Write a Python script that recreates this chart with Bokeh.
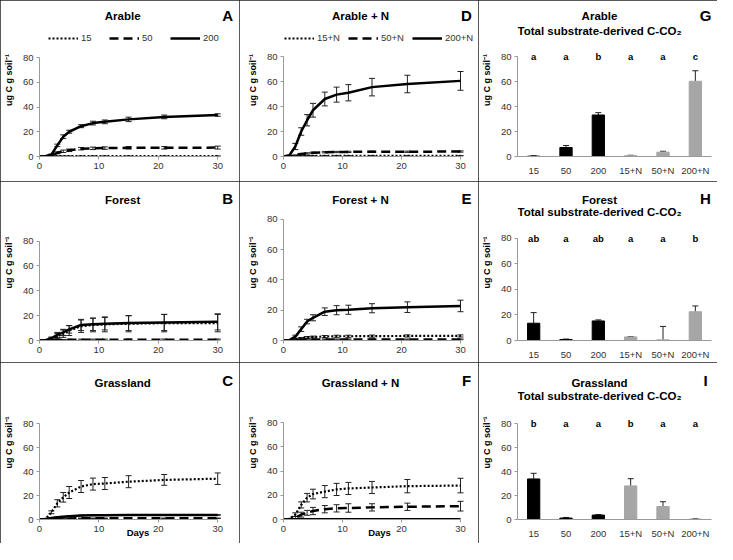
from bokeh.plotting import figure
from bokeh.layouts import gridplot
from bokeh.models import (Range1d, ColumnDataSource, Whisker, TeeHead, Label, LabelSet,
                          Legend, LegendItem, FixedTicker)
from bokeh.core.properties import value
from bokeh.embed import file_html
from bokeh.resources import INLINE

# ---------------- data ----------------
days = [0, 1, 2, 3, 4, 5, 7, 9, 11, 15, 21, 30]

arable_15 = [0, 0.1, 0.2, 0.3, 0.3, 0.3, 0.3, 0.3, 0.3, 0.3, 0.3, 0.3]
arable_15_err = [0, 0, 0, 0.1, 0.1, 0.1, 0.1, 0.1, 0.1, 0.1, 0.1, 0.1]
arable_50 = [0, 0.2, 1.0, 3.0, 4.2, 5.0, 6.3, 6.6, 6.8, 7.0, 7.0, 7.2]
arable_50_err = [0, 0, 0.3, 0.8, 1.0, 1.0, 1.0, 1.0, 1.0, 1.0, 1.0, 1.2]
arable_200 = [0, 0.3, 1.5, 9, 16, 20, 24.5, 27, 28, 30, 32, 33.5]
arable_200_err = [0, 0, 0.5, 1.0, 1.5, 1.2, 1.2, 1.5, 1.5, 1.8, 1.5, 1.0]

arable_n_15 = [0, 0.1, 0.3, 0.4, 0.5, 0.5, 0.5, 0.5, 0.5, 0.5, 0.5, 0.5]
arable_n_15_err = [0, 0, 0.1, 0.2, 0.2, 0.2, 0.2, 0.2, 0.2, 0.2, 0.2, 0.2]
arable_n_50 = [0, 0.3, 1.0, 2.0, 2.5, 3.0, 3.4, 3.6, 3.7, 3.8, 3.8, 4.0]
arable_n_50_err = [0, 0, 0.3, 0.5, 0.5, 0.5, 0.5, 0.5, 0.5, 0.5, 0.5, 0.5]
arable_n_200 = [0, 1.0, 8, 20, 29, 37, 46, 49.5, 51, 55.5, 58, 60.5]
arable_n_200_err = [0, 0, 2.5, 3, 4.5, 5.5, 5.5, 6, 6.5, 7, 7, 7.5]

forest_15 = [0, 0.2, 1.2, 3.5, 5.5, 8, 11.5, 12.5, 13, 13.5, 14, 14]
forest_15_err = [0, 0, 1, 2, 3, 4, 5, 5.5, 6, 6.5, 7, 7]
forest_50 = [0, 0.1, 0.3, 0.5, 0.5, 0.6, 0.6, 0.6, 0.6, 0.7, 0.7, 0.7]
forest_50_err = [0, 0, 0.2, 0.3, 0.3, 0.4, 0.5, 0.5, 0.5, 0.5, 0.5, 0.5]
forest_200 = [0, 0.3, 1.8, 4.5, 6.5, 9, 12.5, 13, 13.5, 14, 14.5, 15]
forest_200_err = [0, 0, 1, 2, 2.5, 3, 4.5, 5, 5, 6, 6.5, 6.5]

forest_n_15 = [0, 0.2, 0.8, 1.5, 2.0, 2.3, 2.6, 2.8, 2.8, 2.9, 3.0, 3.0]
forest_n_15_err = [0, 0, 0.3, 0.5, 0.6, 0.6, 0.7, 0.7, 0.7, 0.7, 0.7, 0.7]
forest_n_50 = [0, 0.1, 0.3, 0.5, 0.6, 0.6, 0.7, 0.7, 0.7, 0.7, 0.7, 0.7]
forest_n_50_err = [0, 0, 0.2, 0.3, 0.3, 0.3, 0.3, 0.3, 0.3, 0.3, 0.3, 0.3]
forest_n_200 = [0, 0.3, 2.5, 7.5, 12.5, 15, 19, 20, 20.3, 21.3, 22, 22.8]
forest_n_200_err = [0, 0, 1, 1.5, 1.5, 2, 2.5, 3, 3, 3, 3.5, 3.8]

grass_15 = [0, 0.5, 6, 13.5, 18.5, 22.5, 27.5, 29.5, 30, 31.5, 33, 34]
grass_15_err = [0, 0, 1.2, 3, 4, 5, 5, 5, 5, 5, 4.5, 4.8]
grass_50 = [0, 0.1, 0.3, 0.6, 0.8, 0.9, 1, 1, 1, 1, 1, 1]
grass_50_err = [0, 0, 0.1, 0.2, 0.2, 0.2, 0.2, 0.2, 0.2, 0.2, 0.2, 0.2]
grass_200 = [0, 0.5, 1.2, 1.8, 2.3, 2.7, 3.3, 3.5, 3.6, 3.7, 3.8, 3.8]
grass_200_err = [0, 0, 0.2, 0.3, 0.3, 0.3, 0.3, 0.3, 0.3, 0.3, 0.3, 0.3]

grass_n_15 = [0, 0.5, 4, 12, 18, 21, 23, 24.8, 25.6, 26.4, 27.5, 28]
grass_n_15_err = [0, 0, 1.5, 2.5, 3.5, 4, 5, 5, 5, 5, 5.5, 6]
grass_n_50 = [0, 0.2, 1.5, 4, 5.5, 7, 8.5, 9.2, 9.5, 10, 10.5, 11]
grass_n_50_err = [0, 0, 1, 2, 2, 3, 3, 3, 3.5, 3, 3, 4]
grass_n_200 = [0, 0.1, 0.2, 0.3, 0.3, 0.3, 0.3, 0.3, 0.3, 0.3, 0.3, 0.3]
grass_n_200_err = [0, 0, 0, 0, 0, 0, 0, 0, 0, 0, 0, 0]

bar_cats = ["15", "50", "200", "15+N", "50+N", "200+N"]
arable_total = [0.3, 7.2, 33.2, 0.7, 3.5, 60.2]
arable_total_err = [0.3, 1.6, 1.9, 0.3, 0.7, 8.4]
arable_sig = ["a", "a", "b", "a", "a", "c"]
forest_total = [13.5, 0.8, 15.3, 2.8, 0.5, 22.5]
forest_total_err = [8.3, 0.3, 0.8, 0.3, 10.5, 4.5]
forest_sig = ["ab", "a", "ab", "a", "a", "b"]
grass_total = [33.8, 1.2, 3.7, 28.0, 10.8, 0.4]
grass_total_err = [4.7, 0.5, 0.4, 6.0, 4.0, 0.3]
grass_sig = ["b", "a", "a", "b", "a", "a"]

y_label = "ug C g soil\u207b\u00b9"
sub_title = "Total substrate-derived C-CO\u2082"

# ---------------- layout / style ----------------
FONT = "Liberation Sans"
W, H = 239, 181
AX = "#9a9a9a"
TXT = "#333333"
TOP = 3
COL_LEFT = [37, 44, 39]
COL_RIGHT = [3, 3, 6]
ROW_BOTTOM = [25, 21, 24]
ROW_TEXT_Y = [(15, 30, 15), (19, 31, 17), (20, 33, 18)]  # title, subtitle, letter


class Panel:
    def __init__(self, row, col, y80_px, x30_px=None):
        self.l, self.r = COL_LEFT[col], COL_RIGHT[col]
        self.b = ROW_BOTTOM[row]
        self.row = row
        fw = W - self.l - self.r
        self.y0 = H - self.b
        self.ppy = (self.y0 - y80_px) / 80.0
        y_end = (self.y0 - TOP) / self.ppy
        if x30_px is None:
            self.ppx = fw / 6.0
            x_end = 6.0
        else:
            self.ppx = (x30_px - self.l) / 30.0
            x_end = fw / self.ppx
        p = figure(width=W, height=H, x_range=Range1d(0, x_end), y_range=Range1d(0, y_end),
                   title=None, output_backend="svg", toolbar_location=None,
                   min_border_left=self.l, min_border_right=self.r,
                   min_border_top=TOP, min_border_bottom=self.b,
                   outline_line_color=None, background_fill_color="white",
                   border_fill_color="white",
                   styles={"outline": "1.5px solid #222222", "outline-offset": "-1px"})
        p.xgrid.visible = False
        p.ygrid.visible = False
        p.yaxis.ticker = FixedTicker(ticks=[0, 20, 40, 60, 80])
        p.yaxis.bounds = (0, 80)
        for ax in (p.xaxis[0], p.yaxis[0]):
            ax.axis_line_color = AX
            ax.axis_line_width = 1
            ax.major_tick_line_color = AX
            ax.major_tick_in = 0
            ax.major_tick_out = 3
            ax.minor_tick_line_color = None
            ax.major_label_text_font = FONT
            ax.major_label_text_font_size = "9.5px"
            ax.major_label_text_color = TXT
            ax.major_label_standoff = 3
        p.yaxis.axis_label = y_label
        p.yaxis.axis_label_text_font = FONT
        p.yaxis.axis_label_text_font_style = "bold"
        p.yaxis.axis_label_text_font_size = "9px"
        p.yaxis.axis_label_text_color = "black"
        p.yaxis.axis_label_standoff = 6
        self.p = p

    def data_xy(self, cx, cy):
        return (cx - self.l) / self.ppx, (self.y0 - cy) / self.ppy

    def text(self, txt, cx, cy, size):
        x, y = self.data_xy(cx, cy)
        self.p.add_layout(Label(x=x, y=y, text=txt, text_font=FONT, text_font_size=size,
                                text_font_style="bold", text_align="center",
                                text_baseline="middle", text_color="black"))

    def header(self, title, letter, sub=None):
        ty, sy, ly = ROW_TEXT_Y[self.row]
        self.text(title, 121, ty, "11.5px")
        if sub is not None:
            self.text(sub, 121, sy, "11.5px")
        self.text(letter, 227, ly, "15px")


LINE_STYLES = [("2 2", 2.2), ("9 5", 2.5), ("solid", 2.5)]


def line_panel(row, col, y80, x30, title, letter, names, vals, errs, legend_x=None):
    pn = Panel(row, col, y80, x30)
    p = pn.p
    p.xaxis.ticker = FixedTicker(ticks=[0, 10, 20, 30])
    p.xaxis.bounds = (0, 30)
    rends = []
    for v, e, (dash, lw) in zip(vals, errs, LINE_STYLES):
        sel = [i for i, ee in enumerate(e) if ee > 0]
        if sel:
            wsrc = ColumnDataSource(dict(x=[days[i] for i in sel],
                                         lo=[v[i] - e[i] for i in sel],
                                         hi=[v[i] + e[i] for i in sel]))
            p.add_layout(Whisker(base="x", lower="lo", upper="hi", source=wsrc,
                                 line_color="#222222", line_width=1,
                                 upper_head=TeeHead(size=6, line_color="#222222", line_width=1),
                                 lower_head=TeeHead(size=6, line_color="#222222", line_width=1)))
        src = ColumnDataSource(dict(x=days, y=v))
        r = p.line("x", "y", source=src, line_color="black", line_width=lw, line_dash=dash)
        rends.append(r)
    if legend_x is not None:
        lg = Legend(items=[LegendItem(label=n, renderers=[rr]) for n, rr in zip(names, rends)],
                    orientation="horizontal", location=(legend_x - pn.l, pn.y0 - 43),
                    border_line_color=None, background_fill_alpha=0, padding=0, margin=0,
                    glyph_width=30, glyph_height=10, label_height=10, label_standoff=3,
                    spacing=8, label_text_font=FONT, label_text_font_size="9.5px",
                    label_text_color=TXT)
        p.add_layout(lg)
    pn.header(title, letter)
    if row == 2:
        p.xaxis.axis_label = "Days"
        p.xaxis.axis_label_text_font = FONT
        p.xaxis.axis_label_text_font_style = "bold"
        p.xaxis.axis_label_text_font_size = "9.5px"
        p.xaxis.axis_label_text_color = "black"
        p.xaxis.axis_label_standoff = -8
    return p


def bar_panel(row, col, y80, title, letter, vals, errs, sig):
    pn = Panel(row, col, y80)
    p = pn.p
    n = len(bar_cats)
    xs = [i + 0.5 for i in range(n)]
    colors = ["#a6a6a6" if c.endswith("+N") else "#000000" for c in bar_cats]
    src = ColumnDataSource(dict(x=xs, top=vals, hi=[v + e for v, e in zip(vals, errs)],
                                color=colors, sig=sig, sy=[80] * n))
    p.vbar(x="x", top="top", width=0.38, source=src, fill_color="color", line_color="color")
    p.add_layout(Whisker(base="x", lower="top", upper="hi", source=src,
                         line_color="#222222", line_width=1, lower_head=None,
                         upper_head=TeeHead(size=6, line_color="#222222", line_width=1)))
    p.add_layout(LabelSet(x="x", y="sy", text="sig", source=src, text_align="center",
                          text_baseline="middle", text_font=value(FONT),
                          text_font_size="9.5px", text_font_style="bold", text_color="black"))
    p.xaxis.ticker = FixedTicker(ticks=xs)
    p.xaxis.major_label_overrides = dict(zip(xs, bar_cats))
    p.xaxis.major_tick_line_color = None
    p.xaxis.major_label_standoff = 5
    pn.header(title, letter, sub_title)
    return p


names_plain = ["15", "50", "200"]
names_n = ["15+N", "50+N", "200+N"]

pA = line_panel(0, 0, 57, 217, "Arable", "A", names_plain, [arable_15, arable_50, arable_200],
                [arable_15_err, arable_50_err, arable_200_err], legend_x=46)
pB = line_panel(1, 0, 60, 217, "Forest", "B", names_plain, [forest_15, forest_50, forest_200],
                [forest_15_err, forest_50_err, forest_200_err])
pC = line_panel(2, 0, 61, 217, "Grassland", "C", names_plain, [grass_15, grass_50, grass_200],
                [grass_15_err, grass_50_err, grass_200_err])
pD = line_panel(0, 1, 56, 221, "Arable + N", "D", names_n, [arable_n_15, arable_n_50, arable_n_200],
                [arable_n_15_err, arable_n_50_err, arable_n_200_err], legend_x=45)
pE = line_panel(1, 1, 38, 221, "Forest + N", "E", names_n, [forest_n_15, forest_n_50, forest_n_200],
                [forest_n_15_err, forest_n_50_err, forest_n_200_err])
pF = line_panel(2, 1, 60, 221, "Grassland + N", "F", names_n, [grass_n_15, grass_n_50, grass_n_200],
                [grass_n_15_err, grass_n_50_err, grass_n_200_err])
pG = bar_panel(0, 2, 56, "Arable", "G", arable_total, arable_total_err, arable_sig)
pH = bar_panel(1, 2, 57, "Forest", "H", forest_total, forest_total_err, forest_sig)
pI = bar_panel(2, 2, 61, "Grassland", "I", grass_total, grass_total_err, grass_sig)

grid = gridplot([[pA, pD, pG], [pB, pE, pH], [pC, pF, pI]], toolbar_location=None)

open("out.html", "w").write(file_html(grid, INLINE))
